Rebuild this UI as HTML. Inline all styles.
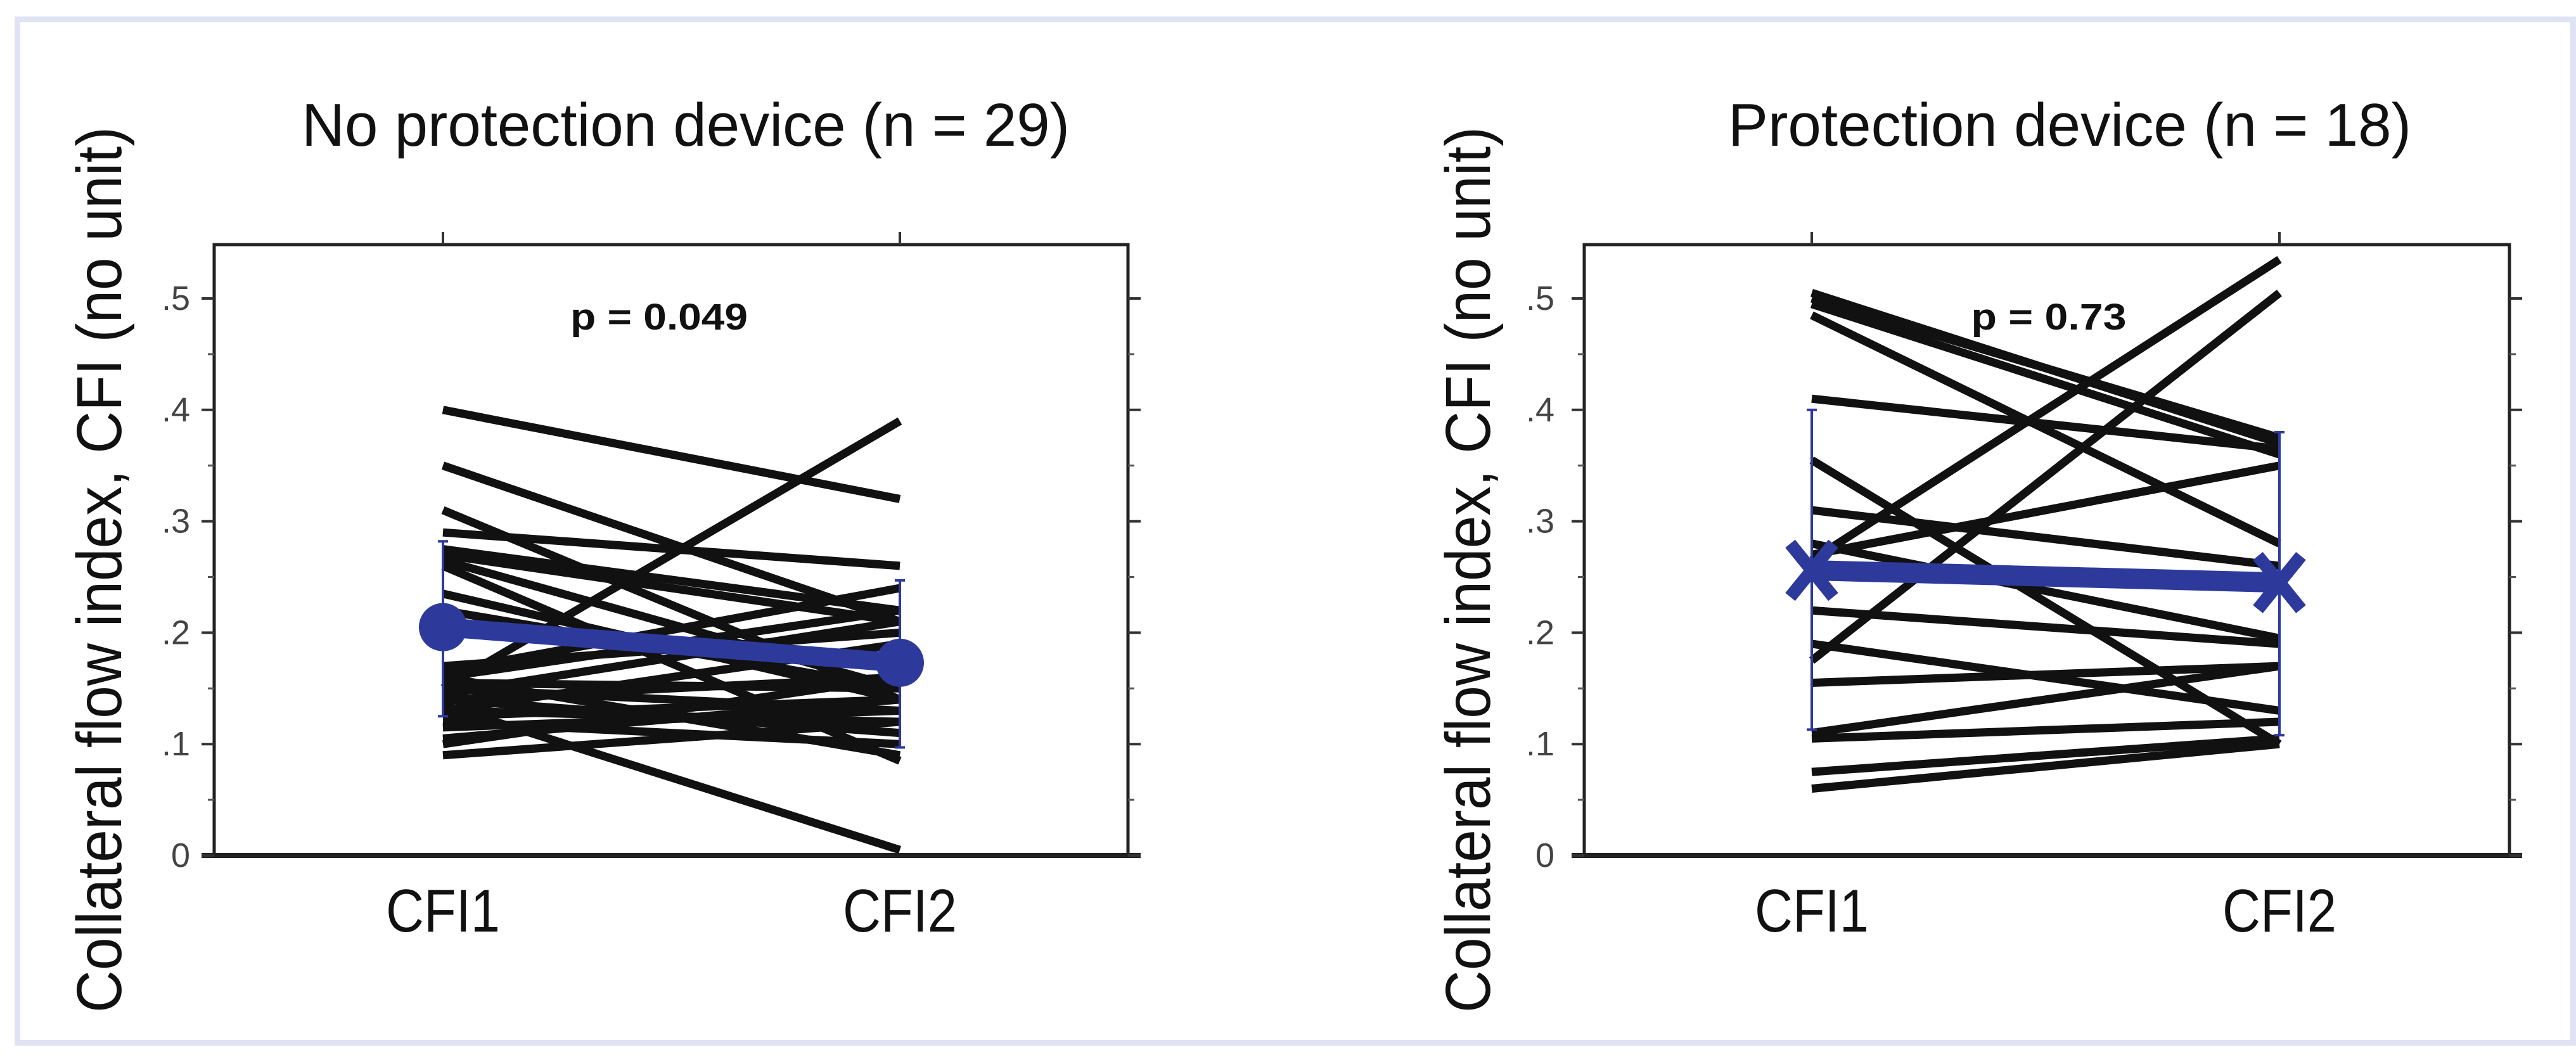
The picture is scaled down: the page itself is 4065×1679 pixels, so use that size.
<!DOCTYPE html>
<html><head><meta charset="utf-8"><style>
html,body{margin:0;padding:0;background:#fff;}
svg{display:block;}
text{font-family:"Liberation Sans",sans-serif;}
</style></head><body>
<svg id="fig" width="4065" height="1679" viewBox="0 0 4065 1679" xmlns="http://www.w3.org/2000/svg">
<rect x="27.5" y="30.5" width="4033" height="1615" fill="#fff" stroke="#dfe3f3" stroke-width="9"/>
</svg>
<script>
// ---- data: left panel (no protection device, n = 29)
const leftCFI1 = [0.40,0.35,0.31,0.29,0.275,0.27,0.265,0.26,0.15,0.17,0.165,0.16,0.155,0.15,0.145,0.14,0.135,0.13,0.125,0.12,0.115,0.105,0.10,0.09,0.235,0.22,0.16,0.14,0.13];
const leftCFI2 = [0.32,0.21,0.14,0.26,0.22,0.21,0.15,0.085,0.39,0.20,0.24,0.22,0.15,0.13,0.21,0.16,0.005,0.12,0.14,0.10,0.13,0.14,0.16,0.12,0.14,0.15,0.09,0.11,0.19];
const leftMean = [0.205,0.173];
const leftErrLow = [0.125,0.097];
const leftErrHigh = [0.282,0.247];
// ---- data: right panel (protection device, n = 18)
const rightCFI1 = [0.505,0.50,0.495,0.485,0.41,0.355,0.31,0.28,0.27,0.265,0.175,0.22,0.19,0.155,0.11,0.105,0.075,0.06];
const rightCFI2 = [0.37,0.375,0.36,0.28,0.365,0.10,0.26,0.195,0.35,0.535,0.505,0.19,0.13,0.17,0.17,0.12,0.105,0.10];
const rightMean = [0.256,0.245];
const rightErrLow = [0.113,0.108];
const rightErrHigh = [0.40,0.38];
const tickValues = [0,0.1,0.2,0.3,0.4,0.5];
const tickLabels = ["0",".1",".2",".3",".4",".5"];
const categories = ["CFI1","CFI2"];

const NS = "http://www.w3.org/2000/svg";
const svg = document.getElementById('fig');
function mk(tag, attrs, parent){
  const e = document.createElementNS(NS, tag);
  for (const k in attrs) e.setAttribute(k, attrs[k]);
  (parent||svg).appendChild(e);
  return e;
}
const Y0 = 1350, YPER = 1758;
function yScale(v){ return Y0 - v*YPER; }

function panel(cfg){
  const g = mk('g', {});
  
  
  const xs = [cfg.x1, cfg.x2];
  const t = mk('text', {x:cfg.titleX, y:230, 'font-size':96, fill:'#111', textLength:cfg.titleW, lengthAdjust:'spacingAndGlyphs'}, g);
  t.textContent = cfg.title;
  
  
  const yl = mk('text', {x:0, y:0, 'font-size':100, fill:'#111', textLength:1398, lengthAdjust:'spacingAndGlyphs', transform:`translate(${cfg.ylabX},1598) rotate(-90)`}, g);
  yl.textContent = 'Collateral flow index, CFI (no unit)';
  
  
  const box = mk('rect', {x:cfg.L, y:386, width:cfg.R-cfg.L, height:Y0-386, fill:'none', stroke:'#222', 'stroke-width':5}, g);
  
  
  const xaxis = mk('line', {x1:cfg.L-20, x2:cfg.R+20, y1:Y0, y2:Y0, stroke:'#222', 'stroke-width':8}, g);
  
  
  for (let i=0;i<tickValues.length;i++){
    const y = yScale(tickValues[i]);
    mk('line', {x1:cfg.L-20, x2:cfg.L, y1:y, y2:y, stroke:'#333', 'stroke-width':4}, g);
    mk('line', {x1:cfg.R, x2:cfg.R+20, y1:y, y2:y, stroke:'#333', 'stroke-width':4}, g);
    const ym = yScale(tickValues[i]+0.05);
    if (ym > 390){
      mk('line', {x1:cfg.L-10, x2:cfg.L, y1:ym, y2:ym, stroke:'#555', 'stroke-width':3}, g);
      mk('line', {x1:cfg.R, x2:cfg.R+10, y1:ym, y2:ym, stroke:'#555', 'stroke-width':3}, g);
    }
    const tl = mk('text', {x:cfg.tickX, y:y+18, 'font-size':54, fill:'#444', 'text-anchor':'end'}, g);
    tl.textContent = tickLabels[i];
    
    
  }
  for (let i=0;i<2;i++){
    mk('line', {x1:xs[i], x2:xs[i], y1:386, y2:366, stroke:'#333', 'stroke-width':4}, g);
    const cl = mk('text', {x:xs[i], y:1470, 'font-size':96, fill:'#111', 'text-anchor':'middle', textLength:180, lengthAdjust:'spacingAndGlyphs'}, g);
    cl.textContent = categories[i];
    
    
  }
  const p = mk('text', {x:cfg.pX, y:520, 'font-size':58, 'font-weight':'bold', fill:'#111', 'text-anchor':'middle', textLength:cfg.pW, lengthAdjust:'spacingAndGlyphs'}, g);
  p.textContent = cfg.p;
  
  
  for (let i=0;i<cfg.a.length;i++){
    const l = mk('line', {x1:xs[0], y1:yScale(cfg.a[i]), x2:xs[1], y2:yScale(cfg.b[i]), stroke:'#111', 'stroke-width':13}, g);
    
    
  }
  const blue = '#2d3a9c';
  for (let i=0;i<2;i++){
    const eb = mk('line', {x1:xs[i], x2:xs[i], y1:yScale(cfg.lo[i]), y2:yScale(cfg.hi[i]), stroke:blue, 'stroke-width':4}, g);
    
    
    mk('line', {x1:xs[i]-8, x2:xs[i]+8, y1:yScale(cfg.lo[i]), y2:yScale(cfg.lo[i]), stroke:blue, 'stroke-width':4}, g);
    mk('line', {x1:xs[i]-8, x2:xs[i]+8, y1:yScale(cfg.hi[i]), y2:yScale(cfg.hi[i]), stroke:blue, 'stroke-width':4}, g);
  }
  const ml = mk('line', {x1:xs[0], y1:yScale(cfg.m[0]), x2:xs[1], y2:yScale(cfg.m[1]), stroke:blue, 'stroke-width':cfg.meanW}, g);
  
  
  for (let i=0;i<2;i++){
    const cx = xs[i], cy = yScale(cfg.m[i]);
    if (cfg.marker==='circle'){
      const c = mk('circle', {cx:cx, cy:cy, r:38, fill:blue}, g);
      
      
    } else {
      const c = mk('path', {d:`M${cx-34},${cy-42}L${cx+34},${cy+42}M${cx-34},${cy+42}L${cx+34},${cy-42}`, stroke:blue, 'stroke-width':20, fill:'none'}, g);
      
      
    }
  }
}
panel({name:'left-panel', title:'No protection device (n = 29)', titleX:476, titleW:1212, ylabX:191,
  L:338, R:1780, x1:699, x2:1420, tickX:300, pX:1040, pW:280, p:'p = 0.049',
  a:leftCFI1, b:leftCFI2, m:leftMean, lo:leftErrLow, hi:leftErrHigh, marker:'circle', meanW:30});
panel({name:'right-panel', title:'Protection device (n = 18)', titleX:2727, titleW:1078, ylabX:2351,
  L:2500, R:3960, x1:2859, x2:3597, tickX:2453, pX:3233, pW:245, p:'p = 0.73',
  a:rightCFI1, b:rightCFI2, m:rightMean, lo:rightErrLow, hi:rightErrHigh, marker:'x', meanW:32});
</script>
</body></html>
